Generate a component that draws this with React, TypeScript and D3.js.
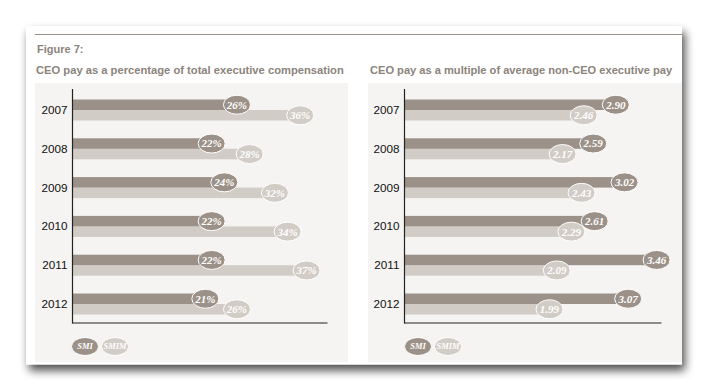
import React from "react";
import * as d3 from "d3";

const years = ["2007", "2008", "2009", "2010", "2011", "2012"];
const pctSMI = [26, 22, 24, 22, 22, 21];
const pctSMIM = [36, 28, 32, 34, 37, 26];
const multSMI = [2.9, 2.59, 3.02, 2.61, 3.46, 3.07];
const multSMIM = [2.46, 2.17, 2.43, 2.29, 2.09, 1.99];
const seriesNames = ["SMI", "SMIM"];
const figureLabel = "Figure 7:";
const leftTitle = "CEO pay as a percentage of total executive compensation";
const rightTitle = "CEO pay as a multiple of average non-CEO executive pay";

const C_SMI = "#9b9188";
const C_SMIM = "#d2ccc6";
const C_BG = "#f5f4f2";
const C_TITLE = "#8c837b";

const yScale = d3.scalePoint<string>().domain(years).range([110, 304]);
const barH = 10.5;

function Panel({ bgX, bgW, axisX, axisEnd, domainMax, smi, smim, fmt, title, titleX, legendX, titleSize }: any) {
  const x = d3.scaleLinear().domain([0, domainMax]).range([axisX, axisEnd]);
  const ew = 13.5;
  const eh = 9.5;
  return (
    <g>
      <rect x={bgX} y={83} width={bgW} height={279} fill={C_BG} />
      <text x={titleX} y={74} fontFamily="Liberation Sans, Arial, sans-serif" fontWeight="bold" fontSize={titleSize} fill={C_TITLE}>
        {title}
      </text>
      {years.map((yr, i) => {
        const c = yScale(yr)!;
        return (
          <g key={yr}>
            <rect x={x(0)} y={c} width={x(smim[i]) - x(0)} height={barH} fill={C_SMIM} />
            <rect x={x(0)} y={c - barH} width={x(smi[i]) - x(0)} height={barH} fill={C_SMI} />
            <text x={axisX - 5} y={c} dy="0.35em" textAnchor="end" fontFamily="Liberation Sans, Arial, sans-serif" fontSize={11.7} fill="#111">
              {yr}
            </text>
          </g>
        );
      })}
      {years.map((yr, i) => {
        const c = yScale(yr)!;
        return (
          <g key={"l" + yr}>
            <ellipse cx={x(smi[i])} cy={c - barH / 2} rx={ew} ry={eh} fill={C_SMI} stroke="#fff" strokeWidth={1} />
            <text x={x(smi[i])} y={c - barH / 2} dy="0.35em" textAnchor="middle" fontFamily="Liberation Serif, serif" fontStyle="italic" fontWeight="bold" fontSize={11} fill="#fff">
              {fmt(smi[i])}
            </text>
            <ellipse cx={x(smim[i])} cy={c + barH / 2} rx={ew} ry={eh} fill={C_SMIM} stroke="#fff" strokeWidth={1} />
            <text x={x(smim[i])} y={c + barH / 2} dy="0.35em" textAnchor="middle" fontFamily="Liberation Serif, serif" fontStyle="italic" fontWeight="bold" fontSize={11} fill="#fff">
              {fmt(smim[i])}
            </text>
          </g>
        );
      })}
      <line x1={axisX} x2={axisX} y1={89} y2={323.5} stroke="#222" strokeWidth={1.2} />
      <line x1={axisX} x2={axisEnd + 2} y1={323} y2={323} stroke="#222" strokeWidth={1.2} />
      {seriesNames.map((s, i) => (
        <g key={s}>
          <ellipse cx={legendX + i * 30} cy={346.5} rx={13.5} ry={9} fill={i === 0 ? C_SMI : C_SMIM} stroke="#fff" strokeWidth={1} />
          <text x={legendX + i * 30} y={346.5} dy="0.35em" textAnchor="middle" fontFamily="Liberation Serif, serif" fontStyle="italic" fontWeight="bold" fontSize={8.5} fill="#fff">
            {s}
          </text>
        </g>
      ))}
    </g>
  );
}

export default function App() {
  return (
    <svg width={708} height={391} style={{ position: "absolute", left: 0, top: 0, display: "block" }}>
      <defs>
        <filter id="sh" x="-10%" y="-10%" width="125%" height="135%">
          <feGaussianBlur in="SourceAlpha" stdDeviation="5" />
          <feOffset dx="3" dy="6" result="b" />
          <feComponentTransfer>
            <feFuncA type="linear" slope="0.7" />
          </feComponentTransfer>
          <feMerge>
            <feMergeNode />
            <feMergeNode in="SourceGraphic" />
          </feMerge>
        </filter>
      </defs>
      <rect x={0} y={0} width={708} height={391} fill="#fff" />
      <rect x={26} y={26} width={656} height={338.5} fill="#fff" filter="url(#sh)" />
      <line x1={35} x2={682} y1={34.5} y2={34.5} stroke="#9a9088" strokeWidth={1} />
      <text x={37} y={53} fontFamily="Liberation Sans, Arial, sans-serif" fontWeight="bold" fontSize={11} fill={C_TITLE}>
        {figureLabel}
      </text>
      <Panel bgX={35} bgW={313} axisX={72.5} axisEnd={325.5} domainMax={40} smi={pctSMI} smim={pctSMIM} fmt={(v: number) => `${v}%`} title={leftTitle} titleX={36} titleSize={11.2} legendX={85} />
      <Panel bgX={368} bgW={314} axisX={404.5} axisEnd={659.5} domainMax={3.5} smi={multSMI} smim={multSMIM} fmt={(v: number) => v.toFixed(2)} title={rightTitle} titleX={370} titleSize={11.1} legendX={418} />
    </svg>
  );
}
